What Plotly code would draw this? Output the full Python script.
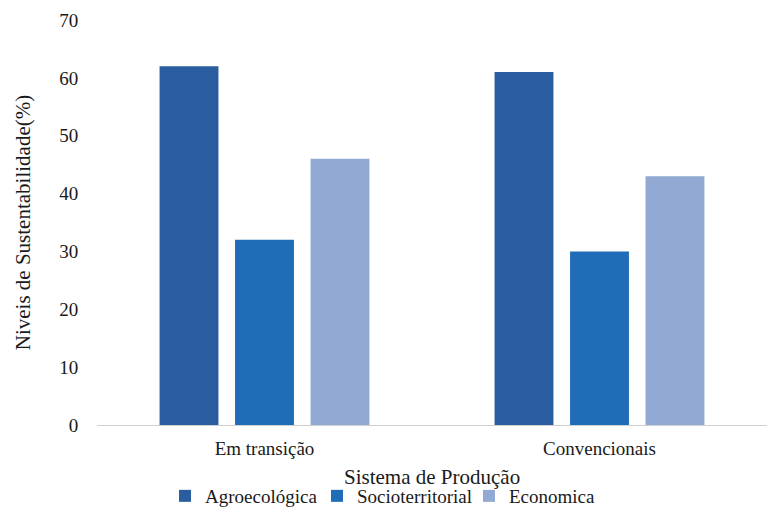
import plotly.graph_objects as go

categories = ["Em transição", "Convencionais"]
series_names = ["Agroecológica", "Socioterritorial", "Economica"]
agroecologica = [62, 61]
socioterritorial = [32, 30]
economica = [46, 43]
colors = ["#2A5D9F", "#1F6DB6", "#91A9D3"]
y_ticks = [0, 10, 20, 30, 40, 50, 60, 70]
x_title = "Sistema de Produção"
y_title = "Niveis de Sustentabilidade(%)"

font_family = "Liberation Serif"

fig = go.Figure()
for name, vals, c in zip(series_names, [agroecologica, socioterritorial, economica], colors):
    fig.add_trace(go.Bar(x=categories, y=vals, name=name, marker=dict(color=c, line=dict(width=0))))

fig.update_layout(
    width=769, height=507,
    margin=dict(l=97, r=2, t=20, b=82, autoexpand=False),
    paper_bgcolor="white", plot_bgcolor="white",
    barmode="group", bargap=0.324, bargroupgap=0.22,
    font=dict(family=font_family, size=19, color="#1a1a1a"),
    showlegend=True,
    legend=dict(orientation="h", xref="container", yref="container",
                x=165 / 769, xanchor="left", y=1 - 496 / 507, yanchor="middle",
                font=dict(family=font_family, size=19, color="#1a1a1a"),
                entrywidth=107, entrywidthmode="pixels",
                traceorder="normal", bgcolor="rgba(0,0,0,0)",
                borderwidth=0, tracegroupgap=0),
)
fig.add_annotation(
    text=x_title, xref="paper", yref="paper", x=0.5, y=0,
    xanchor="center", yanchor="middle", yshift=-52, showarrow=False,
    font=dict(family=font_family, size=21, color="#1a1a1a"),
)
fig.update_xaxes(
    showline=True, linecolor="#d0d0d0", linewidth=1, showgrid=False,
    ticks="outside", ticklen=6, tickcolor="rgba(0,0,0,0)",
    tickfont=dict(family=font_family, size=19, color="#1a1a1a"),
)
fig.update_yaxes(
    range=[0, 70], tickvals=y_ticks, showgrid=False, showline=False, zeroline=False,
    ticks="outside", ticklen=14, tickcolor="rgba(0,0,0,0)", automargin=True,
    tickfont=dict(family=font_family, size=19, color="#1a1a1a"),
    title=dict(text=y_title, font=dict(family=font_family, size=21, color="#1a1a1a"), standoff=22),
)

fig.write_html("out.html")
